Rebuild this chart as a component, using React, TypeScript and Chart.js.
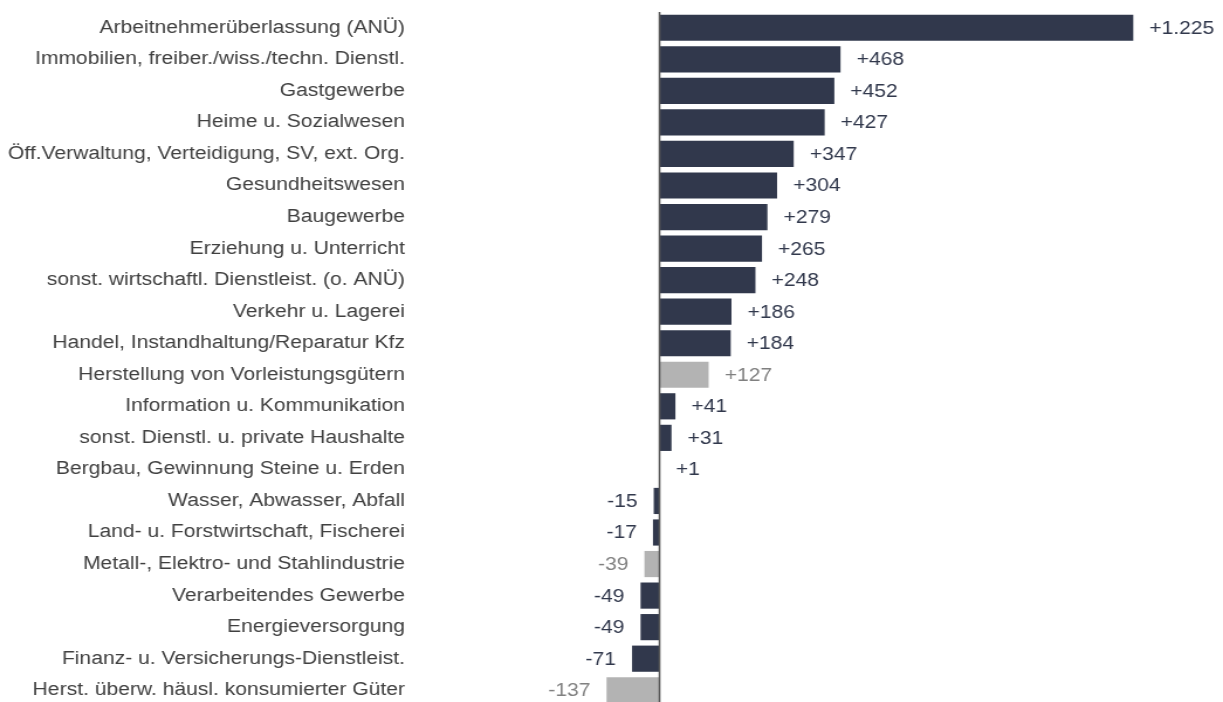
import React, { useEffect, useRef } from 'react';
import { Chart, registerables } from 'chart.js';

Chart.register(...registerables);

const categories: string[] = [
  'Arbeitnehmerüberlassung (ANÜ)',
  'Immobilien, freiber./wiss./techn. Dienstl.',
  'Gastgewerbe',
  'Heime u. Sozialwesen',
  'Öff.Verwaltung, Verteidigung, SV, ext. Org.',
  'Gesundheitswesen',
  'Baugewerbe',
  'Erziehung u. Unterricht',
  'sonst. wirtschaftl. Dienstleist. (o. ANÜ)',
  'Verkehr u. Lagerei',
  'Handel, Instandhaltung/Reparatur Kfz',
  'Herstellung von Vorleistungsgütern',
  'Information u. Kommunikation',
  'sonst. Dienstl. u. private Haushalte',
  'Bergbau, Gewinnung Steine u. Erden',
  'Wasser, Abwasser, Abfall',
  'Land- u. Forstwirtschaft, Fischerei',
  'Metall-, Elektro- und Stahlindustrie',
  'Verarbeitendes Gewerbe',
  'Energieversorgung',
  'Finanz- u. Versicherungs-Dienstleist.',
  'Herst. überw. häusl. konsumierter Güter',
];

const values: number[] = [
  1225, 468, 452, 427, 347, 304, 279, 265, 248, 186, 184, 127, 41, 31, 1,
  -15, -17, -39, -49, -49, -71, -137,
];

// sub-sectors of "Verarbeitendes Gewerbe" shown in grey
const isSubSector: boolean[] = [
  false, false, false, false, false, false, false, false, false, false, false,
  true, false, false, false, false, false, true, false, false, false, true,
];

const NAVY = '#31384c';
const GREY = '#b3b3b3';
const NAVY_TEXT = '#31384c';
const GREY_TEXT = '#808080';
const LABEL_TEXT = '#404040';
const FONT = '"Liberation Sans", Arial, Helvetica, sans-serif';

const STRETCH_W = 1045;
const FULL_W = 1223;

function fmt(v: number): string {
  const abs = Math.abs(v).toString().replace(/\B(?=(\d{3})+(?!\d))/g, '.');
  return (v > 0 ? '+' : v < 0 ? '-' : '') + abs;
}

export default function App() {
  const canvasRef = useRef<HTMLCanvasElement | null>(null);

  useEffect(() => {
    const canvas = canvasRef.current;
    if (!canvas) return;

    const valueLabels = {
      id: 'valueLabels',
      afterDatasetsDraw(chart: any) {
        const ctx = chart.ctx;
        const meta = chart.getDatasetMeta(0);
        const xScale = chart.scales.x;
        const x0 = xScale.getPixelForValue(0);
        // zero line
        ctx.save();
        ctx.strokeStyle = '#595959';
        ctx.lineWidth = 1.6;
        ctx.beginPath();
        ctx.moveTo(x0, chart.chartArea.top);
        ctx.lineTo(x0, chart.height);
        ctx.stroke();
        // labels
        ctx.font = `18px ${FONT}`;
        ctx.textBaseline = 'middle';
        meta.data.forEach((bar: any, i: number) => {
          const v = values[i];
          ctx.fillStyle = isSubSector[i] ? GREY_TEXT : NAVY_TEXT;
          if (v >= 0) {
            ctx.textAlign = 'left';
            ctx.fillText(fmt(v), Math.max(bar.x, x0) + 13.7, bar.y + 1);
          } else {
            ctx.textAlign = 'right';
            ctx.fillText(fmt(v), Math.min(bar.x, x0) - 13.7, bar.y + 1);
          }
        });
        ctx.restore();
      },
    };

    const chart = new Chart(canvas, {
      type: 'bar',
      data: {
        labels: categories,
        datasets: [
          {
            data: values,
            backgroundColor: isSubSector.map((g) => (g ? GREY : NAVY)),
            borderWidth: 0,
            barPercentage: 0.83,
            categoryPercentage: 1,
          },
        ],
      },
      options: {
        indexAxis: 'y',
        animation: false,
        responsive: true,
        maintainAspectRatio: false,
        layout: { padding: { top: 12, left: 0, right: 0, bottom: 0 } },
        plugins: {
          legend: { display: false },
          tooltip: { enabled: false },
        },
        scales: {
          x: {
            type: 'linear',
            min: -165,
            max: 1457,
            display: false,
          },
          y: {
            type: 'category',
            position: 'left',
            grid: { display: false, drawTicks: false },
            border: { display: false },
            ticks: {
              font: { size: 18, family: FONT },
              color: LABEL_TEXT,
              padding: 163,
              autoSkip: false,
            },
            afterFit: (scale: any) => {
              scale.width = 509;
              scale.paddingTop = 0;
              scale.paddingBottom = 0;
            },
          },
        },
      },
      plugins: [valueLabels],
    });

    return () => chart.destroy();
  }, []);

  return (
    <div
      style={{
        position: 'fixed',
        left: 0,
        top: 0,
        width: FULL_W,
        height: 702,
        overflow: 'hidden',
        background: '#ffffff',
      }}
    >
      <div
        style={{
          width: STRETCH_W,
          height: 706,
          transform: `scaleX(${FULL_W / STRETCH_W})`,
          transformOrigin: '0 0',
        }}
      >
        <canvas ref={canvasRef} />
      </div>
    </div>
  );
}
